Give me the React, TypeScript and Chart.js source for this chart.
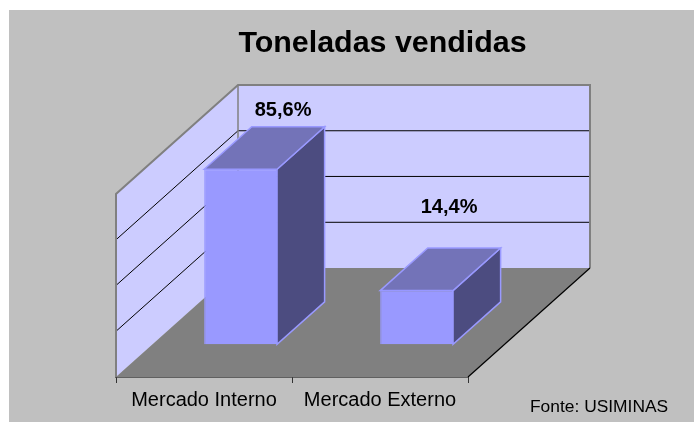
import React, { useEffect, useRef } from "react";
import { Chart, registerables } from "chart.js";

Chart.register(...registerables);

const categories = ["Mercado Interno", "Mercado Externo"];
const shares = [85.6, 14.4];
const axisTicks = [6.54, 12.8, 25.1, 49.1, 96.2];
const chartTitle = "Toneladas vendidas";
const sourceNote = "Fonte: USIMINAS";
const labelOffsets = [
  [42.5, -60],
  [32.5, -85],
];

const FONT = '"Liberation Sans", Arial, sans-serif';
const DEPTH_X = 122;
const DEPTH_Y = 109;
const BAR_NEAR = 0.3;
const BAR_FAR = 0.69;

function poly(ctx: CanvasRenderingContext2D, pts: number[][], fill?: string, stroke?: string, lw = 1) {
  ctx.beginPath();
  pts.forEach((p, i) => (i ? ctx.lineTo(p[0], p[1]) : ctx.moveTo(p[0], p[1])));
  ctx.closePath();
  if (fill) {
    ctx.fillStyle = fill;
    ctx.fill();
  }
  if (stroke) {
    ctx.strokeStyle = stroke;
    ctx.lineWidth = lw;
    ctx.stroke();
  }
}

function line(ctx: CanvasRenderingContext2D, pts: number[][], stroke: string, lw: number) {
  ctx.beginPath();
  pts.forEach((p, i) => (i ? ctx.lineTo(p[0], p[1]) : ctx.moveTo(p[0], p[1])));
  ctx.strokeStyle = stroke;
  ctx.lineWidth = lw;
  ctx.stroke();
}

const scene3d = {
  id: "scene3d",
  beforeDraw(chart: any) {
    const { ctx } = chart;
    ctx.save();
    ctx.fillStyle = "#C0C0C0";
    ctx.fillRect(9, 10, chart.width - 9, chart.height - 10);
    ctx.restore();
  },
  afterLayout(chart: any) {
    const t = chart.titleBlock;
    if (t) {
      t.left = 237;
      t.right = 528;
    }
  },
  beforeDatasetsDraw(chart: any) {
    const { ctx, chartArea: a, scales } = chart;
    const { left: l, right: r, top: t, bottom: b } = a;
    const dx = DEPTH_X;
    const dy = DEPTH_Y;
    ctx.save();
    // walls and floor
    poly(ctx, [[l + dx, t - dy], [r + dx, t - dy], [r + dx, b - dy], [l + dx, b - dy]], "#CCCCFF");
    poly(ctx, [[l, t], [l + dx, t - dy], [l + dx, b - dy], [l, b]], "#CCCCFF");
    poly(ctx, [[l, b], [r, b], [r + dx, b - dy], [l + dx, b - dy]], "#808080");
    // gridlines
    axisTicks.slice(1, 4).forEach((v) => {
      const y = scales.y.getPixelForValue(v);
      line(ctx, [[l, y], [l + dx, y - dy], [r + dx, y - dy]], "#000000", 1);
    });
    // wall outline
    line(ctx, [[l, b], [l, t], [l + dx, t - dy], [r + dx, t - dy], [r + dx, b - dy]], "#808080", 2);
    line(ctx, [[l + dx, t - dy], [l + dx, b - dy]], "#808080", 1.5);
    line(ctx, [[r, b], [r + dx, b - dy]], "#000000", 1.2);
    // bar side and top faces
    const meta = chart.getDatasetMeta(0);
    meta.data.forEach((bar: any) => {
      const x0 = bar.x - bar.width / 2 + dx * BAR_NEAR;
      const x1 = bar.x + bar.width / 2 + dx * BAR_NEAR;
      const yT = bar.y - dy * BAR_NEAR;
      const yB = bar.base - dy * BAR_NEAR;
      const ex = dx * (BAR_FAR - BAR_NEAR);
      const ey = dy * (BAR_FAR - BAR_NEAR);
      poly(ctx, [[x1, yT], [x1 + ex, yT - ey], [x1 + ex, yB - ey], [x1, yB]], "#4C4C80", "#9999FF", 1.5);
      poly(ctx, [[x0, yT], [x0 + ex, yT - ey], [x1 + ex, yT - ey], [x1, yT]], "#7373B8", "#9999FF", 1.5);
    });
    ctx.restore();
    // the library's bars become the front faces, pushed into the depth
    ctx.save();
    ctx.translate(dx * BAR_NEAR, -dy * BAR_NEAR);
  },
  afterDatasetsDraw(chart: any) {
    const { ctx } = chart;
    ctx.restore();
    ctx.save();
    ctx.fillStyle = "#000000";
    ctx.textAlign = "center";
    ctx.textBaseline = "alphabetic";
    ctx.font = `bold 20px ${FONT}`;
    chart.getDatasetMeta(0).data.forEach((bar: any, i: number) => {
      const text = shares[i].toFixed(1).replace(".", ",") + "%";
      const [ox, oy] = labelOffsets[i];
      ctx.fillText(text, bar.x + DEPTH_X * BAR_NEAR + ox, bar.y - DEPTH_Y * BAR_NEAR + oy + 7);
    });
    ctx.textAlign = "left";
    ctx.font = `17.4px ${FONT}`;
    ctx.fillText(sourceNote, 530, 412);
    ctx.restore();
  },
};

export default function App() {
  const ref = useRef<HTMLCanvasElement>(null);
  useEffect(() => {
    const chart = new Chart(ref.current as HTMLCanvasElement, {
      type: "bar",
      data: {
        labels: categories,
        datasets: [
          {
            data: shares,
            backgroundColor: "#9999FF",
            borderColor: "#9999FF",
            borderWidth: 1,
            categoryPercentage: 1,
            barPercentage: 0.414,
            clip: false,
          } as any,
        ],
      },
      plugins: [scene3d],
      options: {
        animation: false,
        responsive: false,
        layout: { padding: { left: 116, right: 226, top: 25, bottom: 5 } },
        plugins: {
          legend: { display: false },
          tooltip: { enabled: false },
          title: {
            display: true,
            text: chartTitle,
            color: "#000000",
            font: { family: FONT, size: 30.4, weight: "bold" },
            padding: { top: 0, bottom: 132.5 },
          },
        },
        scales: {
          x: {
            type: "category",
            offset: true,
            grid: {
              offset: true,
              drawOnChartArea: false,
              drawTicks: true,
              tickLength: 6,
              color: "#333333",
            },
            border: { display: true, color: "#000000", width: 1.5 },
            ticks: {
              color: "#000000",
              padding: 5,
              maxRotation: 0,
              autoSkip: false,
              font: { family: FONT, size: 20 },
            },
            afterFit(scale: any) {
              scale.height = 40;
            },
          },
          y: {
            type: "logarithmic",
            display: false,
            min: axisTicks[0],
            max: axisTicks[axisTicks.length - 1],
          },
        },
      },
    } as any);
    return () => chart.destroy();
  }, []);
  return (
    <div>
      <canvas
        ref={ref}
        width={694}
        height={422}
        style={{ position: "fixed", left: 0, top: 0, width: 694, height: 422, display: "block" }}
      />
    </div>
  );
}
